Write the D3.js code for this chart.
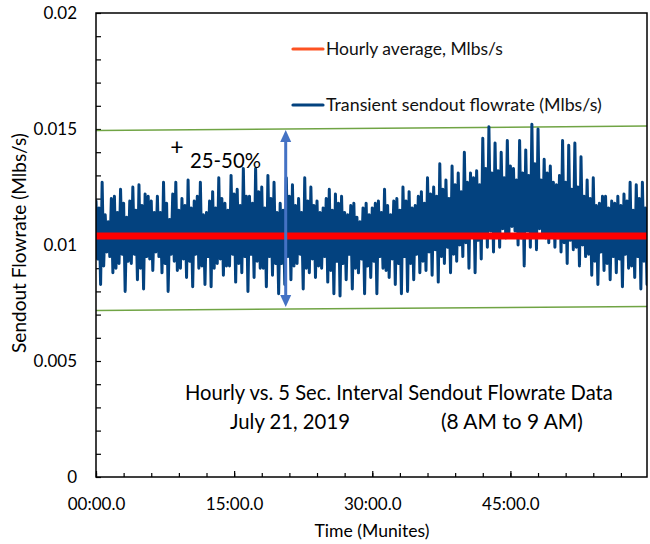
<!DOCTYPE html>
<html>
<head>
<meta charset="utf-8">
<script src="https://cdn.jsdelivr.net/npm/d3@7"></script>
<style>
  body { margin: 0; background: #fff; }
  svg { font-family: Lato, "Open Sans", sans-serif; }
</style>
</head>
<body>
<div id="chart"></div>
<script>
// chart size and plot margins
const width = 650;
const height = 544;
const margin = {left: 96, right: 3, top: 13, bottom: 67};

// transient sendout flowrate (Mlbs/s), one value every 10 s
const sampleSeconds = 10;
const flowrate = [
  0.0119, 0.0094, 0.0116, 0.0083, 0.0127, 0.0091, 0.0113, 0.0097, 0.0110, 0.0095, 0.0120, 0.0088, 0.0121, 0.0090, 0.0114, 0.0092, 0.0124, 0.0096, 0.0118, 0.0080,
  0.0112, 0.0093, 0.0119, 0.0092, 0.0125, 0.0096, 0.0115, 0.0085, 0.0126, 0.0090, 0.0117, 0.0081, 0.0122, 0.0095, 0.0121, 0.0094, 0.0119, 0.0089, 0.0114, 0.0097,
  0.0121, 0.0095, 0.0114, 0.0088, 0.0127, 0.0092, 0.0118, 0.0080, 0.0111, 0.0096, 0.0122, 0.0093, 0.0127, 0.0089, 0.0115, 0.0090, 0.0120, 0.0094, 0.0117, 0.0086,
  0.0128, 0.0093, 0.0116, 0.0082, 0.0119, 0.0096, 0.0121, 0.0090, 0.0127, 0.0091, 0.0113, 0.0083, 0.0114, 0.0095, 0.0119, 0.0082, 0.0123, 0.0090, 0.0116, 0.0092,
  0.0129, 0.0094, 0.0120, 0.0087, 0.0118, 0.0091, 0.0115, 0.0091, 0.0130, 0.0096, 0.0122, 0.0084, 0.0124, 0.0092, 0.0117, 0.0088, 0.0133, 0.0095, 0.0121, 0.0080,
  0.0121, 0.0096, 0.0118, 0.0086, 0.0133, 0.0093, 0.0123, 0.0090, 0.0125, 0.0090, 0.0116, 0.0082, 0.0130, 0.0095, 0.0120, 0.0087, 0.0127, 0.0092, 0.0114, 0.0079,
  0.0118, 0.0092, 0.0115, 0.0083, 0.0129, 0.0095, 0.0121, 0.0085, 0.0126, 0.0091, 0.0117, 0.0092, 0.0120, 0.0096, 0.0114, 0.0081, 0.0129, 0.0090, 0.0119, 0.0088,
  0.0125, 0.0094, 0.0117, 0.0086, 0.0119, 0.0091, 0.0114, 0.0090, 0.0116, 0.0095, 0.0120, 0.0084, 0.0124, 0.0089, 0.0115, 0.0079, 0.0122, 0.0093, 0.0118, 0.0078,
  0.0121, 0.0092, 0.0114, 0.0085, 0.0113, 0.0096, 0.0117, 0.0081, 0.0118, 0.0090, 0.0112, 0.0088, 0.0110, 0.0094, 0.0116, 0.0079, 0.0118, 0.0091, 0.0113, 0.0086,
  0.0116, 0.0093, 0.0118, 0.0079, 0.0119, 0.0095, 0.0114, 0.0090, 0.0124, 0.0089, 0.0117, 0.0086, 0.0113, 0.0094, 0.0119, 0.0083, 0.0120, 0.0092, 0.0115, 0.0079,
  0.0125, 0.0095, 0.0119, 0.0080, 0.0123, 0.0092, 0.0116, 0.0085, 0.0117, 0.0096, 0.0121, 0.0088, 0.0123, 0.0093, 0.0118, 0.0089, 0.0129, 0.0097, 0.0122, 0.0087,
  0.0125, 0.0098, 0.0121, 0.0084, 0.0135, 0.0095, 0.0124, 0.0092, 0.0128, 0.0099, 0.0120, 0.0088, 0.0134, 0.0096, 0.0126, 0.0093, 0.0131, 0.0100, 0.0123, 0.0095,
  0.0140, 0.0101, 0.0127, 0.0090, 0.0131, 0.0104, 0.0129, 0.0088, 0.0132, 0.0102, 0.0126, 0.0094, 0.0146, 0.0105, 0.0133, 0.0099, 0.0151, 0.0106, 0.0131, 0.0097,
  0.0144, 0.0105, 0.0132, 0.0099, 0.0140, 0.0107, 0.0129, 0.0103, 0.0145, 0.0104, 0.0134, 0.0108, 0.0133, 0.0106, 0.0128, 0.0100, 0.0145, 0.0103, 0.0131, 0.0091,
  0.0141, 0.0106, 0.0130, 0.0099, 0.0152, 0.0104, 0.0135, 0.0098, 0.0150, 0.0107, 0.0128, 0.0104, 0.0137, 0.0103, 0.0131, 0.0101, 0.0134, 0.0105, 0.0127, 0.0099,
  0.0126, 0.0103, 0.0130, 0.0097, 0.0145, 0.0101, 0.0127, 0.0092, 0.0143, 0.0102, 0.0124, 0.0098, 0.0144, 0.0099, 0.0125, 0.0091, 0.0138, 0.0100, 0.0121, 0.0095,
  0.0128, 0.0096, 0.0120, 0.0087, 0.0129, 0.0093, 0.0117, 0.0083, 0.0118, 0.0097, 0.0121, 0.0089, 0.0121, 0.0092, 0.0116, 0.0085, 0.0119, 0.0095, 0.0118, 0.0088,
  0.0121, 0.0094, 0.0117, 0.0082, 0.0122, 0.0096, 0.0119, 0.0090, 0.0127, 0.0091, 0.0115, 0.0086, 0.0126, 0.0095, 0.0120, 0.0081, 0.0127, 0.0093, 0.0116, 0.0083
];

// hourly average and the hand drawn band lines (start, end)
const hourlyAverage = 0.01039;
const bandUpper = [0.01493, 0.01513];
const bandLower = [0.00718, 0.00735];

// double arrow for the +25-50% note
const arrowTime = 20.6;
const arrowRange = [0.00733, 0.01496];

// tick labels
const yTicks = [0, 0.005, 0.01, 0.015, 0.02];
const yTickLabels = ["0", "0.005", "0.01", "0.015", "0.02"];
const xTicks = [0, 15, 30, 45];
const xTickLabels = ["00:00.0", "15:00.0", "30:00.0", "45:00.0"];

const blue = "#03427f";
const red = "#ff0000";
const green = "#70a444";
const arrowBlue = "#4472c4";

const times = flowrate.map((d, i) => i * sampleSeconds / 60);
const series = flowrate.map((d, i) => ({t: times[i], v: d}));

const svg = d3.select("#chart")
  .append("svg")
  .attr("width", width)
  .attr("height", height);

// scales
const x = d3.scaleLinear()
  .domain([0, d3.max(times)])
  .range([margin.left, width - margin.right]);

const y = d3.scaleLinear()
  .domain([0, 0.02])
  .range([height - margin.bottom, margin.top]);

// stretch a text to the width it has in the picture
function fitText(sel, w) {
  const fs = parseFloat(sel.attr("font-size"));
  const len = sel.node().getComputedTextLength();
  sel.attr("font-size", fs * w / len);
  return sel;
}

svg.append("clipPath").attr("id", "plot-clip")
  .append("rect")
  .attr("x", margin.left).attr("y", margin.top)
  .attr("width", width - margin.left - margin.right)
  .attr("height", height - margin.top - margin.bottom);

// minor / major ticks, drawn inside the box
const yMinor = d3.range(0, 0.02001, 0.001);
const yAxisG = svg.append("g")
  .attr("transform", `translate(${margin.left},0)`)
  .call(d3.axisLeft(y).tickValues(yMinor).tickSize(-5).tickFormat(""));
yAxisG.select(".domain").remove();
yAxisG.selectAll("line").attr("stroke", "#000").attr("stroke-width", 1.2);

const yLabelG = svg.append("g")
  .attr("transform", `translate(${margin.left},0)`)
  .call(d3.axisLeft(y).tickValues(yTicks).tickSize(0).tickPadding(19)
          .tickFormat((d, i) => yTickLabels[i]));
yLabelG.select(".domain").remove();
yLabelG.selectAll("text")
  .attr("font-family", "Lato")
  .attr("font-size", "17px")
  .attr("fill", "#000");

const xMinor = d3.range(0, 58, 3);
const xAxisG = svg.append("g")
  .attr("transform", `translate(0,${height - margin.bottom})`)
  .call(d3.axisBottom(x).tickValues(xMinor).tickSize(-4).tickFormat(""));
xAxisG.select(".domain").remove();
xAxisG.selectAll("line").attr("stroke", "#000").attr("stroke-width", 1.2);

const xLabelG = svg.append("g")
  .attr("transform", `translate(0,${height - margin.bottom})`)
  .call(d3.axisBottom(x).tickValues(xTicks).tickSize(-6).tickPadding(21)
          .tickFormat((d, i) => xTickLabels[i]));
xLabelG.select(".domain").remove();
xLabelG.selectAll("line").attr("stroke", "#000").attr("stroke-width", 1.2);
xLabelG.selectAll("text")
  .attr("font-family", "Lato")
  .attr("font-size", "17px")
  .attr("fill", "#000");

// band lines
const plot = svg.append("g").attr("clip-path", "url(#plot-clip)");
[bandUpper, bandLower].forEach(b => {
  plot.append("line")
    .attr("x1", x(0)).attr("x2", x(d3.max(times)))
    .attr("y1", y(b[0])).attr("y2", y(b[1]))
    .attr("stroke", green)
    .attr("stroke-width", 1.5);
});

// transient series
const line = d3.line().x(d => x(d.t)).y(d => y(d.v));
plot.append("path")
  .datum(series)
  .attr("d", line)
  .attr("fill", "none")
  .attr("stroke", blue)
  .attr("stroke-width", 3)
  .attr("stroke-linejoin", "round")
  .attr("stroke-linecap", "round");

// double arrow
const ax = x(arrowTime);
const yTop = y(arrowRange[1]);
const yBot = y(arrowRange[0]);
svg.append("line")
  .attr("x1", ax).attr("x2", ax)
  .attr("y1", yTop + 10).attr("y2", yBot - 10)
  .attr("stroke", arrowBlue)
  .attr("stroke-width", 3);
svg.append("path")
  .attr("d", `M${ax},${yTop} L${ax - 5.5},${yTop + 12} L${ax + 5.5},${yTop + 12} Z`)
  .attr("fill", arrowBlue);
svg.append("path")
  .attr("d", `M${ax},${yBot} L${ax - 5.5},${yBot - 12} L${ax + 5.5},${yBot - 12} Z`)
  .attr("fill", arrowBlue);

// hourly average
plot.append("line")
  .attr("x1", x(0)).attr("x2", x(d3.max(times)))
  .attr("y1", y(hourlyAverage)).attr("y2", y(hourlyAverage))
  .attr("stroke", red)
  .attr("stroke-width", 7);

// plot box
svg.append("rect")
  .attr("x", margin.left).attr("y", margin.top)
  .attr("width", width - margin.left - margin.right)
  .attr("height", height - margin.top - margin.bottom)
  .attr("fill", "none")
  .attr("stroke", "#000")
  .attr("stroke-width", 1.5);

// legend
const legend = [
  {label: "Hourly average, Mlbs/s", color: "#fd5222", y: 49, w: 177},
  {label: "Transient sendout flowrate (Mlbs/s)", color: blue, y: 105, w: 276}
];
legend.forEach(l => {
  svg.append("line")
    .attr("x1", 293).attr("x2", 323)
    .attr("y1", l.y).attr("y2", l.y)
    .attr("stroke", l.color)
    .attr("stroke-width", 3.2)
    .attr("stroke-linecap", "round");
  const t = svg.append("text")
    .attr("x", 326).attr("y", l.y + 6)
    .attr("font-size", 18)
    .attr("fill", "#111")
    .text(l.label);
  fitText(t, l.w);
});

// notes
svg.append("text")
  .attr("x", 177).attr("y", 155)
  .attr("text-anchor", "middle")
  .attr("font-size", 23)
  .text("+");
fitText(svg.append("text")
  .attr("x", 190).attr("y", 168)
  .attr("font-size", 20)
  .text("25-50%"), 71);

fitText(svg.append("text")
  .attr("x", 185).attr("y", 400)
  .attr("font-size", 20)
  .text("Hourly vs. 5 Sec. Interval Sendout Flowrate Data"), 428);
fitText(svg.append("text")
  .attr("x", 230).attr("y", 429)
  .attr("font-size", 20)
  .text("July 21, 2019"), 120);
fitText(svg.append("text")
  .attr("x", 441).attr("y", 429)
  .attr("font-size", 20)
  .text("(8 AM to 9 AM)"), 142);

// axis titles
fitText(svg.append("text")
  .attr("x", 372).attr("y", 537)
  .attr("text-anchor", "middle")
  .attr("font-size", 16)
  .text("Time (Munites)"), 115);

fitText(svg.append("text")
  .attr("transform", "translate(26,243) rotate(-90)")
  .attr("text-anchor", "middle")
  .attr("font-size", 16)
  .text("Sendout Flowrate (Mlbs/s)"), 220);
</script>
</body>
</html>
